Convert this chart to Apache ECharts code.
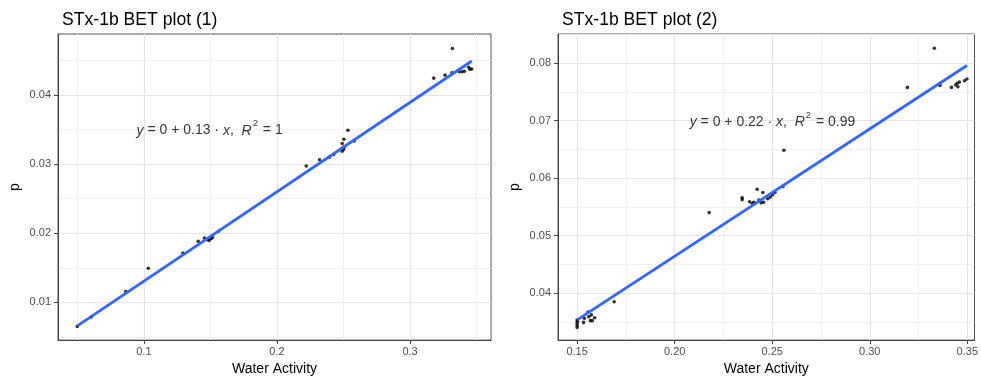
<!DOCTYPE html>
<html>
<head>
<meta charset="utf-8">
<script src="https://cdn.jsdelivr.net/npm/echarts@6/dist/echarts.min.js"></script>
<style>
  html, body { margin: 0; padding: 0; background: #fff; }
  #chart { width: 981px; height: 381px; }
</style>
</head>
<body>
<div id="chart"></div>
<script>
// ---- BET plot (1): water activity vs p ----
const aw1 = [0.0500, 0.0605, 0.0864, 0.1033, 0.1294, 0.1408, 0.1455, 0.1480, 0.1490, 0.1500,
             0.1508, 0.1515, 0.1495, 0.1560, 0.2220, 0.2320, 0.2394, 0.2426, 0.2490, 0.2503,
             0.2533, 0.2490, 0.2500, 0.2508, 0.2495, 0.2580, 0.3178, 0.3263, 0.3318, 0.3315,
             0.3370, 0.3390, 0.3408, 0.3440, 0.3450, 0.3463];
const p1  = [0.00651, 0.00790, 0.01158, 0.01493, 0.01713, 0.01883, 0.01931, 0.01905, 0.01895, 0.01918,
             0.01928, 0.01940, 0.01935, 0.02029, 0.02971, 0.03062, 0.03100, 0.03139, 0.03297, 0.03358,
             0.03488, 0.03186, 0.03210, 0.03249, 0.03230, 0.03335, 0.04242, 0.04285, 0.04670, 0.04320,
             0.04335, 0.04335, 0.04340, 0.04400, 0.04370, 0.04375];
const fit1X = [0.0500, 0.3463];
const fit1Y = [0.0066, 0.0449];

// ---- BET plot (2) ----
const aw2 = [0.1500, 0.1500, 0.1500, 0.1500, 0.1502, 0.1533, 0.1537, 0.1556, 0.1560, 0.1568,
             0.1578, 0.1573, 0.1590, 0.1690, 0.2177, 0.2346, 0.2346, 0.2384, 0.2398, 0.2406,
             0.2423, 0.2432, 0.2452, 0.2443, 0.2456, 0.2477, 0.2490, 0.2502, 0.2514, 0.2555,
             0.2560, 0.3193, 0.3331, 0.3360, 0.3419, 0.3440, 0.3448, 0.3452, 0.3460, 0.3486,
             0.3498];
const p2  = [0.03532, 0.03475, 0.03435, 0.03400, 0.03510, 0.03490, 0.03560, 0.03670, 0.03590, 0.03520,
             0.03520, 0.03620, 0.03570, 0.03848, 0.05400, 0.05659, 0.05625, 0.05590, 0.05560, 0.05580,
             0.05805, 0.05620, 0.05750, 0.05570, 0.05580, 0.05640, 0.05670, 0.05710, 0.05750, 0.05856,
             0.06484, 0.07578, 0.08259, 0.07613, 0.07578, 0.07620, 0.07650, 0.07590, 0.07670, 0.07694,
             0.07723];
const fit2X = [0.1500, 0.3498];
const fit2Y = [0.03533, 0.07959];

// axis ranges and tick labels
const xRange1 = [0.0355, 0.3608];
const yRange1 = [0.00455, 0.0488];
const xRange2 = [0.1402, 0.3537];
const yRange2 = [0.03182, 0.08507];
const xTicks1 = ['0.1', '0.2', '0.3'];
const yTicks1 = ['0.01', '0.02', '0.03', '0.04'];
const xTicks2 = ['0.15', '0.20', '0.25', '0.30', '0.35'];
const yTicks2 = ['0.04', '0.05', '0.06', '0.07', '0.08'];

// titles and regression equations
const titles = ['STx-1b BET plot (1)', 'STx-1b BET plot (2)'];
const eqSlope = ['0.13', '0.22'];
const eqIntercept = ['0', '0'];
const eqR2 = ['1', '0.99'];
const eqAnchor = [[0.0945, 0.03483], [0.2077, 0.0697]];

const FONT = '"Liberation Sans", Arial, Helvetica, sans-serif';
const zip = (a, b) => a.map((v, i) => [v, b[i]]);

function xAxisOf(idx, range, ticks) {
  return {
    type: 'value', gridIndex: idx, min: range[0], max: range[1], splitNumber: idx === 0 ? 3 : 5,
    name: 'Water Activity', nameLocation: 'middle', nameGap: 21,
    nameTextStyle: { color: '#000', fontSize: 14, fontFamily: FONT },
    axisLine: { show: true, onZero: false, lineStyle: { color: '#444', width: 1 } },
    axisTick: { show: true, length: 4, customValues: ticks.map(Number), lineStyle: { color: '#444' } },
    axisLabel: { customValues: ticks.map(Number), margin: 6, color: '#4D4D4D', fontSize: 11, fontFamily: FONT,
                 formatter: v => ticks.find(t => Math.abs(Number(t) - v) < 1e-9) || '' },
    splitLine: { show: true, lineStyle: { color: '#E4E4E4', width: 1.2 } },
    minorTick: { show: false, splitNumber: 2 },
    minorSplitLine: { show: true, lineStyle: { color: '#EFEFEF', width: 0.9 } }
  };
}
function yAxisOf(idx, range, ticks) {
  return {
    type: 'value', gridIndex: idx, min: range[0], max: range[1], splitNumber: 5,
    name: 'p', nameLocation: 'middle', nameGap: 36, nameRotate: 90,
    nameTextStyle: { color: '#000', fontSize: 14, fontFamily: FONT },
    axisLine: { show: true, onZero: false, lineStyle: { color: '#444', width: 1 } },
    axisTick: { show: true, length: 4, customValues: ticks.map(Number), lineStyle: { color: '#444' } },
    axisLabel: { customValues: ticks.map(Number), margin: 7, color: '#4D4D4D', fontSize: 11, fontFamily: FONT,
                 formatter: v => ticks.find(t => Math.abs(Number(t) - v) < 1e-9) || '' },
    splitLine: { show: true, lineStyle: { color: '#E4E4E4', width: 1.2 } },
    minorTick: { show: false, splitNumber: 2 },
    minorSplitLine: { show: true, lineStyle: { color: '#EFEFEF', width: 0.9 } }
  };
}

function equationSeries(idx) {
  return {
    type: 'scatter', xAxisIndex: idx, yAxisIndex: idx, silent: true, z: 5,
    symbolSize: 0, data: [eqAnchor[idx]],
    label: {
      show: true, position: 'right', distance: 0,
      color: '#000', fontSize: 14, fontFamily: FONT, lineHeight: 24,
      formatter: () => '{i|y} = ' + eqIntercept[idx] + ' + ' + eqSlope[idx] + ' \u00B7 {i|x},  {i|R}{s|2} = ' + eqR2[idx],
      rich: {
        i: { fontStyle: 'italic', fontSize: 14, fontFamily: FONT, color: '#000', lineHeight: 24 },
        s: { fontSize: 9.5, fontFamily: FONT, color: '#000', lineHeight: 10, verticalAlign: 'top', padding: [0, 1, 0, 1] }
      }
    }
  };
}

function pointSeries(idx, xs, ys) {
  return {
    type: 'scatter', xAxisIndex: idx, yAxisIndex: idx, silent: true, z: 3,
    symbol: 'circle', symbolSize: 3.6, itemStyle: { color: '#000' },
    data: zip(xs, ys)
  };
}
function fitSeries(idx, xs, ys) {
  return {
    type: 'line', xAxisIndex: idx, yAxisIndex: idx, silent: true, z: 4,
    symbol: 'none', lineStyle: { color: '#3366FF', width: 2.8 },
    data: zip(xs, ys)
  };
}

const chart = echarts.init(document.getElementById('chart'), null, { renderer: 'canvas' });
chart.setOption({
  animation: false,
  backgroundColor: '#fff',
  title: [
    { text: titles[0], left: 57, top: 6, textStyle: { color: '#000', fontSize: 17.6, fontWeight: 'normal', fontFamily: FONT } },
    { text: titles[1], left: 557, top: 6, textStyle: { color: '#000', fontSize: 17.6, fontWeight: 'normal', fontFamily: FONT } }
  ],
  grid: [
    { left: 58, top: 34, width: 433, height: 308, show: true, borderColor: '#555', borderWidth: 1, backgroundColor: '#fff' },
    { left: 558, top: 34, width: 422, height: 308, show: true, borderColor: '#555', borderWidth: 1, backgroundColor: '#fff' }
  ],
  xAxis: [xAxisOf(0, xRange1, xTicks1), xAxisOf(1, xRange2, xTicks2)],
  yAxis: [yAxisOf(0, yRange1, yTicks1), yAxisOf(1, yRange2, yTicks2)],
  series: [
    pointSeries(0, aw1, p1), fitSeries(0, fit1X, fit1Y), equationSeries(0),
    pointSeries(1, aw2, p2), fitSeries(1, fit2X, fit2Y), equationSeries(1)
  ]
});
</script>
</body>
</html>
